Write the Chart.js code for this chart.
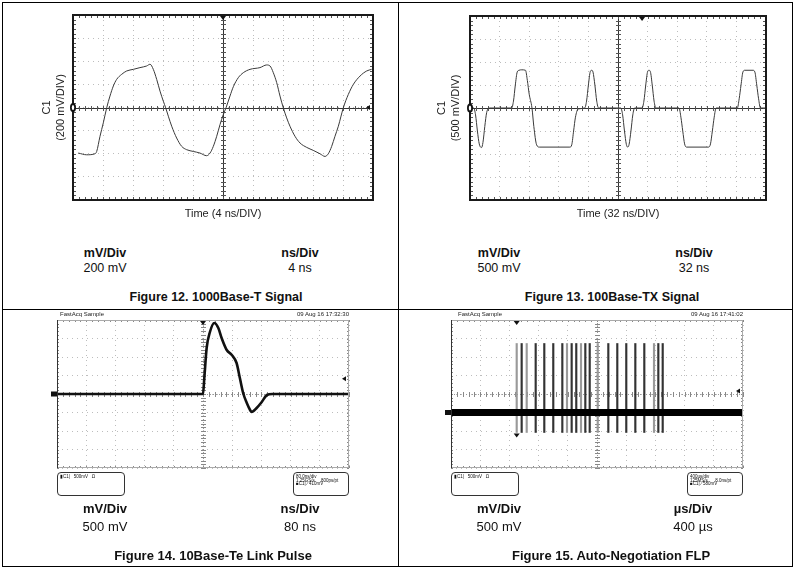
<!DOCTYPE html>
<html>
<head>
<meta charset="utf-8">
<script src="https://cdn.jsdelivr.net/npm/chart.js@4.4.1/dist/chart.umd.min.js"></script>
<style>
body { margin: 0; background: #fff; font-family: "Liberation Sans", Arial, sans-serif; color: #111; }
#page { position: relative; width: 796px; height: 569px; overflow: hidden; }
canvas { position: absolute; }
.rule { position: absolute; background: #000; }
.lbl { position: absolute; transform: translate(-50%, -50%); white-space: nowrap; font-size: 12.5px; }
.big { font-size: 13px; }
.b { font-weight: bold; }
.hdr { position: absolute; font-size: 6px; line-height: 6px; white-space: nowrap; color: #222; }
.box { position: absolute; border: 1px solid #333; border-radius: 4px; box-sizing: border-box;
       font-size: 4.5px; line-height: 3.6px; padding: 2px 2px; white-space: pre; color: #111; }
</style>
</head>
<body>
<div id="page">
  <canvas id="c1" width="398" height="240" style="left:0;top:0"></canvas>
  <canvas id="c2" width="398" height="240" style="left:398px;top:0"></canvas>
  <canvas id="c3" width="398" height="170" style="left:0;top:310px"></canvas>
  <canvas id="c4" width="398" height="170" style="left:398px;top:310px"></canvas>

  <div class="rule" style="left:2px;top:2px;width:791px;height:1px"></div>
  <div class="rule" style="left:2px;top:566px;width:791px;height:1px"></div>
  <div class="rule" style="left:2px;top:2px;width:1px;height:565px"></div>
  <div class="rule" style="left:792px;top:2px;width:1px;height:565px"></div>
  <div class="rule" style="left:398px;top:2px;width:1px;height:565px"></div>
  <div class="rule" style="left:2px;top:309px;width:791px;height:1px"></div>

  <div class="lbl b" style="left:105px;top:253px">mV/Div</div>
  <div class="lbl" style="left:105px;top:268px">200 mV</div>
  <div class="lbl b" style="left:300px;top:253px">ns/Div</div>
  <div class="lbl" style="left:300px;top:268px">4 ns</div>
  <div class="lbl b" style="left:216px;top:297px">Figure 12. 1000Base-T Signal</div>

  <div class="lbl b" style="left:499px;top:253px">mV/Div</div>
  <div class="lbl" style="left:499px;top:268px">500 mV</div>
  <div class="lbl b" style="left:694px;top:253px">ns/Div</div>
  <div class="lbl" style="left:694px;top:268px">32 ns</div>
  <div class="lbl b" style="left:612px;top:297px">Figure 13. 100Base-TX Signal</div>

  <div class="hdr" style="left:60px;top:311px">FastAcq Sample</div>
  <div class="hdr" style="right:447px;top:311px">09 Aug 16 17:32:30</div>
  <div class="box" style="left:57px;top:472px;width:68px;height:24px">▮C1|   500mV   Ω</div>
  <div class="box" style="left:293px;top:472px;width:56px;height:24px">80.0ns/div
1.25GS/s     800ps/pt
■C1| ∕ 410mV</div>
  <div class="lbl big b" style="left:105px;top:508px">mV/Div</div>
  <div class="lbl big" style="left:105px;top:526px">500 mV</div>
  <div class="lbl big b" style="left:300px;top:508px">ns/Div</div>
  <div class="lbl big" style="left:300px;top:526px">80 ns</div>
  <div class="lbl big b" style="left:213px;top:555px">Figure 14. 10Base-Te Link Pulse</div>

  <div class="hdr" style="left:458px;top:311px">FastAcq Sample</div>
  <div class="hdr" style="right:53px;top:311px">09 Aug 16 17:41:02</div>
  <div class="box" style="left:451px;top:472px;width:68px;height:24px">▮C1|   500mV   Ω</div>
  <div class="box" style="left:687px;top:472px;width:56px;height:24px">400µs/div
125MS/s      8.0ns/pt
■C1| ∕ 580mV</div>
  <div class="lbl big b" style="left:499px;top:508px">mV/Div</div>
  <div class="lbl big" style="left:499px;top:526px">500 mV</div>
  <div class="lbl big b" style="left:693px;top:508px">µs/Div</div>
  <div class="lbl big" style="left:693px;top:526px">400 µs</div>
  <div class="lbl big b" style="left:611px;top:555px">Figure 15. Auto-Negotiation FLP</div>
</div>

<script>
// Figure 12: 1000Base-T, ns / mV
var gbTime = [0.71, 1.82, 2.93, 3.16, 3.6, 4.04, 4.49, 4.93, 5.38, 5.82, 6.49, 7.16, 8.04, 8.93, 9.82, 10.27,
  10.71, 11.16, 11.6, 12.04, 12.36, 12.71, 13.16, 13.82, 14.49, 15.16, 16.04, 16.93, 17.82, 18.27, 18.71,
  19.16, 19.6, 20.04, 20.4, 20.93, 21.38, 22.04, 22.71, 23.6, 24.93, 25.82, 26.27, 26.71, 27.16, 27.6,
  28.04, 28.49, 28.93, 29.6, 30.27, 31.16, 32.04, 32.93, 33.6, 34.04, 34.49, 34.93, 35.38, 36.04, 36.71,
  37.38, 38.27, 39.16, 39.82];
var gbVolt = [-394, -409, -400, -380, -249, -133, -3, 99, 186, 243, 287, 316, 330, 345, 359, 374,
  330, 243, 142, 55, -3, -75, -162, -264, -336, -365, -380, -394, -417, -394, -336,
  -249, -148, -61, -3, 99, 180, 258, 301, 330, 345, 368, 359, 301, 215, 99,
  -3, -90, -162, -249, -307, -345, -371, -400, -423, -400, -336, -249, -162, -3, 113,
  200, 272, 316, 330];

// Figure 13: 100Base-TX (MLT-3), ns / mV
var feTime = [0, 4, 6, 8, 10, 12.5, 14, 16, 18, 21,
  45, 47, 49, 51, 53, 56, 60, 62, 64, 67, 69, 72, 75,
  108, 110, 112, 114, 117,
  124, 126, 128, 130, 131.5, 133, 135, 137, 139,
  163, 165, 167, 169, 170.5, 172, 174, 176, 178,
  186, 188, 190, 192, 193.5, 195, 197, 199, 201,
  226, 228, 230, 232, 234, 258, 260, 262, 264, 266,
  289, 291, 293, 295, 297, 306, 308, 310, 312, 314, 320];
var feVolt = [0, 0, -150, -500, -780, -860, -750, -400, -100, 0,
  0, 150, 500, 780, 820, 830, 820, 600, 300, 0, -400, -800, -850,
  -850, -800, -500, -200, -20,
  0, 150, 500, 790, 820, 780, 500, 150, 0,
  0, -150, -500, -790, -850, -790, -500, -150, 0,
  0, 150, 500, 790, 820, 790, 500, 150, 0,
  0, -200, -500, -780, -850, -850, -780, -500, -200, 0,
  0, 200, 500, 780, 820, 820, 780, 500, 200, 0, 0];

// Figure 14: 10Base-Te link pulse, ns / mV
var lpTime = [0, 400, 403.6, 410, 419, 431, 442, 451, 465, 479, 492, 501, 510, 520, 529, 533, 547, 561, 575, 590, 800];
var lpVolt = [0, 0, 432, 1243, 1676, 1919, 1784, 1514, 1189, 1054, 838, 432, 27, -243, -432, -486, -378, -216, -27, 0, 0];

// Figure 15: FLP burst, pulse times in µs, pulse swing in mV
var flpDark = [968, 1160, 1278, 1401, 1525, 1653, 1716, 1840, 1900, 2155, 2278, 2401, 2525, 2648, 2840, 2900];
var flpLight = [900, 1037, 1589, 1781, 2010, 2781];
var flpHigh = 1865;
var flpLow = -540;

Chart.defaults.font.family = '"Liberation Sans", Arial, sans-serif';
Chart.defaults.color = '#222';

function pts(xs, ys) {
  return xs.map(function (x, i) { return { x: x, y: ys[i] }; });
}

function drawMarker(chart, m) {
  var ctx = chart.ctx, a = chart.chartArea;
  var px = m.x === 'left' ? a.left : m.x === 'right' ? a.right : chart.scales.x.getPixelForValue(m.x);
  var py = m.y === 'top' ? a.top : chart.scales.y.getPixelForValue(m.y);
  ctx.fillStyle = '#111';
  ctx.beginPath();
  if (m.kind === 'down') {
    ctx.moveTo(px - 3, py + 1); ctx.lineTo(px + 3, py + 1); ctx.lineTo(px, py + 5);
    ctx.fill();
  } else if (m.kind === 'arrow') {
    ctx.moveTo(px - 7, py); ctx.lineTo(px - 3, py - 2.5); ctx.lineTo(px - 3, py + 2.5);
    ctx.fill();
  } else if (m.kind === 'zero') {
    ctx.ellipse(px, py, 3, 4.5, 0, 0, Math.PI * 2);
    ctx.fill();
    ctx.fillStyle = '#fff';
    ctx.beginPath();
    ctx.ellipse(px, py, 1.2, 2.6, 0, 0, Math.PI * 2);
    ctx.fill();
  } else if (m.kind === 'gnd') {
    ctx.fillRect(px - 6, py - 2.5, 6, 5);
  }
}

var scopeDecor = {
  id: 'scopeDecor',
  beforeDatasetsDraw: function (chart, args, o) {
    var ctx = chart.ctx, a = chart.chartArea, xs = chart.scales.x, ys = chart.scales.y;
    var cx = Math.round(xs.getPixelForValue((xs.min + xs.max) / 2)) + 0.5;
    var cy = Math.round(ys.getPixelForValue((ys.min + ys.max) / 2)) + 0.5;
    var i, p;
    ctx.save();
    ctx.lineWidth = 1;
    // centre axes
    ctx.strokeStyle = o.axisColor;
    ctx.setLineDash(o.solidAxes ? [] : [1, 2]);
    ctx.beginPath();
    ctx.moveTo(a.left, cy); ctx.lineTo(a.right, cy);
    ctx.moveTo(cx, a.top); ctx.lineTo(cx, a.bottom);
    ctx.stroke();
    ctx.setLineDash([]);
    // minor ticks, 5 per division
    ctx.strokeStyle = o.tickColor;
    ctx.beginPath();
    for (i = 0; i <= 50; i++) {
      p = Math.round(xs.getPixelForValue(xs.min + i * (xs.max - xs.min) / 50)) + 0.5;
      ctx.moveTo(p, cy - o.tick); ctx.lineTo(p, cy + o.tick);
      ctx.moveTo(p, a.top); ctx.lineTo(p, a.top + o.edgeTick);
      ctx.moveTo(p, a.bottom); ctx.lineTo(p, a.bottom - o.edgeTick);
    }
    for (i = 0; i <= 40; i++) {
      p = Math.round(ys.getPixelForValue(ys.min + i * (ys.max - ys.min) / 40)) + 0.5;
      ctx.moveTo(cx - o.tick, p); ctx.lineTo(cx + o.tick, p);
      ctx.moveTo(a.left, p); ctx.lineTo(a.left + o.edgeTick, p);
      ctx.moveTo(a.right, p); ctx.lineTo(a.right - o.edgeTick, p);
    }
    ctx.stroke();
    ctx.restore();
  },
  afterDraw: function (chart, args, o) {
    var ctx = chart.ctx, a = chart.chartArea;
    ctx.save();
    if (o.heavyFrame) {
      ctx.strokeStyle = '#1a1a1a';
      ctx.lineWidth = 2;
      ctx.strokeRect(a.left, a.top, a.right - a.left, a.bottom - a.top);
    } else {
      ctx.strokeStyle = '#aaa';
      ctx.lineWidth = 1;
      ctx.strokeRect(a.left + 0.5, a.top + 0.5, a.right - a.left - 1, a.bottom - a.top - 1);
      ctx.strokeStyle = '#333';
      ctx.beginPath();
      ctx.moveTo(a.left + 0.5, a.top); ctx.lineTo(a.left + 0.5, a.bottom);
      ctx.stroke();
    }
    (o.markers || []).forEach(function (m) { drawMarker(chart, m); });
    ctx.restore();
  }
};

function axis(min, max, step, title) {
  var ax = {
    type: 'linear', min: min, max: max, offset: false,
    ticks: { display: false, stepSize: step },
    grid: { color: '#bdbdbd', drawTicks: false, offset: false },
    border: { display: false, dash: [1, 4] },
    title: { display: false }
  };
  if (title) ax.title = title;
  return ax;
}

function makeScope(id, datasets, sc, pad, decor, type) {
  return new Chart(document.getElementById(id), {
    type: type || 'line',
    data: { datasets: datasets },
    options: {
      responsive: false, animation: false, devicePixelRatio: 1, events: [],
      layout: { padding: pad },
      scales: sc,
      plugins: { legend: { display: false }, tooltip: { enabled: false }, scopeDecor: decor }
    },
    plugins: [scopeDecor]
  });
}

function yTitle(lines, padTop, padBottom) {
  return { display: true, text: lines, color: '#222', font: { size: 11, lineHeight: 14 / 11 },
    padding: { top: padTop, bottom: padBottom } };
}
function xTitle(text) {
  return { display: true, text: text, color: '#222', font: { size: 11, lineHeight: 15 / 11 },
    padding: { top: 6, bottom: 2 } };
}
var traceStyle = { borderColor: '#3a3a3a', borderWidth: 1, pointRadius: 0, cubicInterpolationMode: 'monotone' };
var heavy = { heavyFrame: true, solidAxes: true, axisColor: '#333', tickColor: '#555', tick: 2.5, edgeTick: 3 };

makeScope('c1',
  [Object.assign({ data: pts(gbTime, gbVolt) }, traceStyle)],
  { x: axis(0, 40, 4, xTitle('Time (4 ns/DIV)')),
    y: axis(-800, 800, 200, yTitle(['C1', '(200 mV/DIV)'], 3, 5)) },
  { left: 37, right: 25, top: 15, bottom: 17 },
  Object.assign({ markers: [{ kind: 'down', x: 20, y: 'top' }, { kind: 'zero', x: 'left', y: 0 },
    { kind: 'arrow', x: 'right', y: 0 }] }, heavy));

makeScope('c2',
  [Object.assign({ data: pts(feTime, feVolt) }, traceStyle)],
  { x: axis(0, 320, 32, xTitle('Time (32 ns/DIV)')),
    y: axis(-2000, 2000, 500, yTitle(['C1', '(500 mV/DIV)'], 1, 7)) },
  { left: 36, right: 30, top: 16, bottom: 17 },
  Object.assign({ markers: [{ kind: 'down', x: 186, y: 'top' }, { kind: 'zero', x: 'left', y: 0 }] }, heavy));

var light = { heavyFrame: false, solidAxes: false, axisColor: '#999', tickColor: '#888', tick: 2.5, edgeTick: 2 };

makeScope('c3',
  [{ data: pts(lpTime, lpVolt), borderColor: '#111', borderWidth: 2.6, pointRadius: 0, cubicInterpolationMode: 'monotone' }],
  { x: axis(0, 800, 80), y: axis(-2000, 2000, 500) },
  { left: 57, right: 49, top: 10, bottom: 12 },
  Object.assign({ markers: [{ kind: 'down', x: 400, y: 'top' }, { kind: 'gnd', x: 'left', y: 0 },
    { kind: 'arrow', x: 'right', y: 410 }] }, light));

function pulses(times) {
  return times.map(function (t) { return { x: t, y: [flpLow, flpHigh] }; });
}
var x4 = axis(0, 4000, 400);
var y4 = axis(-1500, 2500, 500);
makeScope('c4',
  [{ type: 'bar', data: pulses(flpLight), backgroundColor: '#9a9a9a', barThickness: 1.5, grouped: false, order: 2 },
   { type: 'bar', data: pulses(flpDark), backgroundColor: '#333', barThickness: 1.5, grouped: false, order: 1 },
   { type: 'line', data: [{ x: 0, y: 0 }, { x: 4000, y: 0 }], borderColor: '#000', borderWidth: 7, pointRadius: 0, order: 0 }],
  { x: x4, y: y4 },
  { left: 53, right: 53, top: 10, bottom: 12 },
  Object.assign({ markers: [{ kind: 'down', x: 900, y: 'top' }, { kind: 'down', x: 900, y: flpLow },
    { kind: 'gnd', x: 'left', y: 0 }, { kind: 'arrow', x: 'right', y: 580 }] }, light),
  'bar');
</script>
</body>
</html>
